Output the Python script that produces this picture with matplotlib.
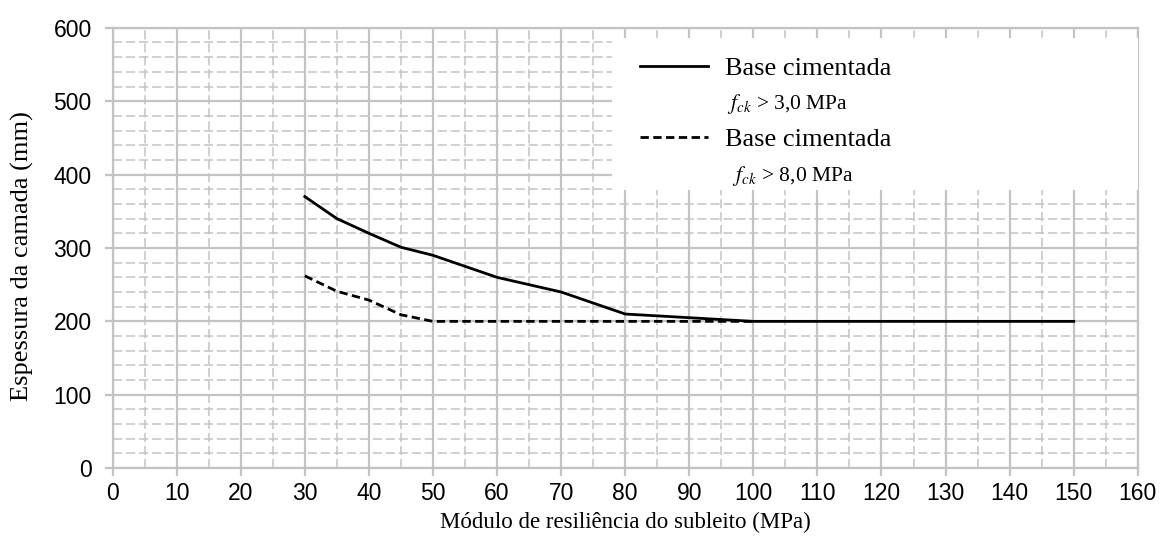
import matplotlib.pyplot as plt
from matplotlib.lines import Line2D
from matplotlib.patches import Rectangle
from matplotlib.ticker import MultipleLocator

# módulo de resiliência do subleito (MPa) x espessura (mm)
mr_fck3 = [30, 35, 40, 45, 50, 55, 60, 65, 70, 75, 80, 90, 100, 110, 120, 130, 140, 150]
esp_fck3 = [370, 340, 320, 301, 290, 275, 260, 250, 240, 225, 210, 205, 200, 200, 200, 200, 200, 200]

mr_fck8 = [30, 35, 40, 45, 50, 60, 70, 80, 90, 100]
esp_fck8 = [262, 241, 229, 209, 200, 200, 200, 200, 200, 200]

labels = ["Base cimentada", " $f_{ck}$ > 3,0 MPa", "Base cimentada", "  $f_{ck}$ > 8,0 MPa"]

plt.rcParams["mathtext.fontset"] = "stix"
SERIF = "Liberation Serif"
SANS = "Liberation Sans"
GRID = "#c3c3c3"
DASH = (0, (3.0, 1.6))

fig = plt.figure(figsize=(11.61, 5.45), dpi=100)
ax = fig.add_axes([0.097, 0.141, 0.883, 0.808])

ax.plot(mr_fck3, esp_fck3, color="black", linewidth=2.0, zorder=3)
ax.plot(mr_fck8, esp_fck8, color="black", linewidth=2.0, linestyle=DASH, zorder=3)

ax.set_xlim(0, 160)
ax.set_ylim(0, 600)
ax.xaxis.set_major_locator(MultipleLocator(10))
ax.xaxis.set_minor_locator(MultipleLocator(5))
ax.yaxis.set_major_locator(MultipleLocator(100))
ax.yaxis.set_minor_locator(MultipleLocator(20))

ax.grid(which="major", color=GRID, linewidth=1.6, linestyle="-")
ax.grid(which="minor", color=GRID, linewidth=1.1, linestyle=(0, (6, 2.5)))
ax.set_axisbelow(True)

for side in ["left", "bottom", "right", "top"]:
    ax.spines[side].set_color(GRID)
    ax.spines[side].set_linewidth(1.6)

ax.tick_params(which="major", direction="out", length=6, width=1.6, color=GRID,
               labelsize=16.5, labelcolor="black")
ax.tick_params(axis="x", pad=4)
ax.tick_params(axis="y", pad=9)
ax.tick_params(which="minor", length=0)
for lab in ax.get_xticklabels() + ax.get_yticklabels():
    lab.set_fontfamily(SANS)

ax.set_xlabel("Módulo de resiliência do subleito (MPa)", fontfamily=SERIF, fontsize=16.5, labelpad=5)
ax.set_ylabel("Espessura da camada (mm)", fontfamily=SERIF, fontsize=19)
ax.yaxis.set_label_coords(-0.0768, 0.482)

# fundo branco da legenda
ax.add_patch(Rectangle((0.487, 0.632), 0.513, 0.345, transform=ax.transAxes,
                       facecolor="white", edgecolor="none", zorder=3.5))

blank = Line2D([], [], color="none")
handles = [
    Line2D([], [], color="black", linewidth=2.0),
    blank,
    Line2D([], [], color="black", linewidth=2.0, linestyle=DASH),
    blank,
]
leg = ax.legend(handles, labels, loc="upper left",
                bbox_to_anchor=(0.500, 0.968),
                frameon=False, prop={"family": SERIF, "size": 19},
                handlelength=2.6, handletextpad=0.64, labelspacing=0.42,
                borderpad=0.55, borderaxespad=0)
for i, t in enumerate(leg.get_texts()):
    if i % 2 == 1:
        t.set_fontsize(15.5)
leg.set_zorder(4)

fig.savefig("out.png", dpi=100)
